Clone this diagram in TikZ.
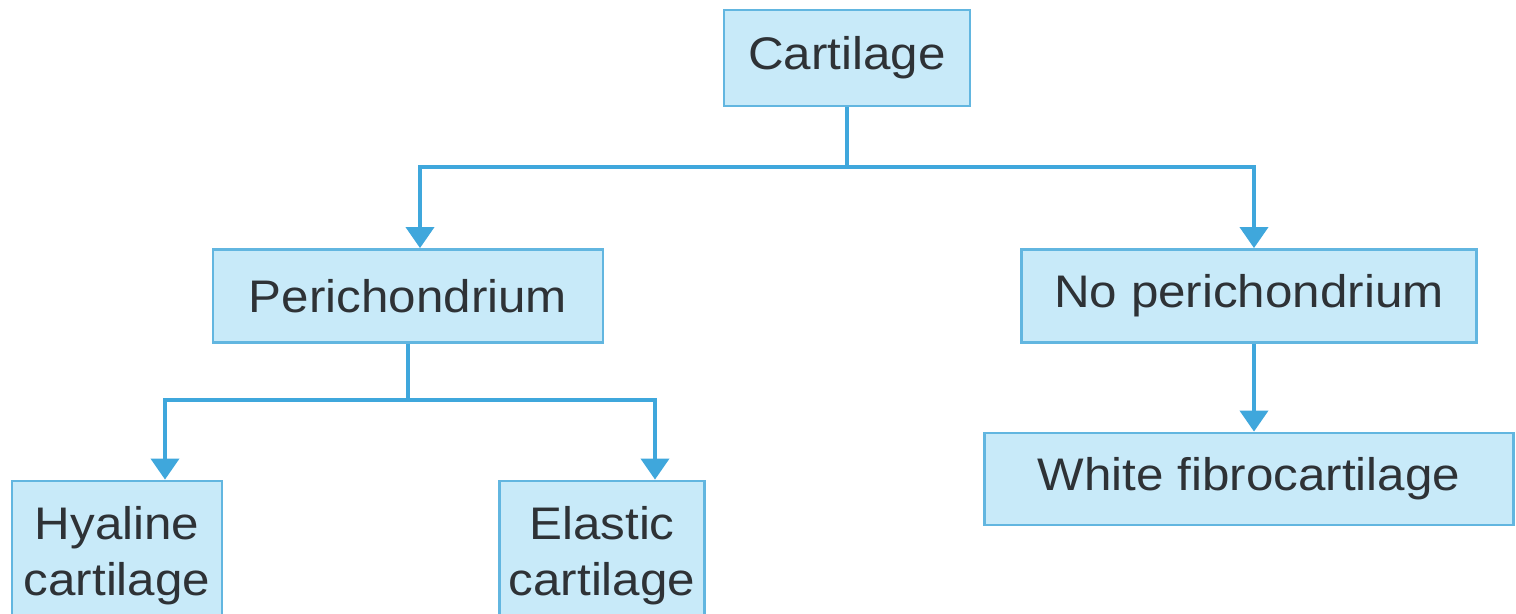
\documentclass[tikz,border=0pt]{standalone}
\usepackage{fontspec}
\setmainfont{Liberation Sans}[FakeStretch=1.08]
\usepackage{tikz}
\usetikzlibrary{arrows.meta}
\usepackage{xcolor}
\definecolor{boxfill}{HTML}{C8EAF9}
\definecolor{boxline}{HTML}{62B6E0}
\definecolor{arrowblue}{HTML}{3FA7DC}
\definecolor{textgray}{HTML}{2E3236}

\begin{document}
\begin{tikzpicture}[x=0.02cm, y=-0.02cm, >={Triangle[width=16pt,length=12pt]},
  box/.style={draw=boxline, line width=1.6pt, fill=boxfill, text=textgray,
    font=\fontsize{26}{32}\selectfont, inner sep=0pt, align=center},
  link/.style={draw=arrowblue, line width=2.2pt}]
  % Frame of the picture
  \clip (0,0) rectangle (1516,613);

  % Boxes
  \node[box, minimum width=246*0.02cm, minimum height=96*0.02cm] (cart) at (847,58) {Cartilage};
  \node[box, minimum width=390*0.02cm, minimum height=93*0.02cm] (peri) at (408,296) {Perichondrium};
  \node[box, minimum width=455*0.02cm, minimum height=93*0.02cm] (noperi) at (1249,296) {No perichondrium};
  \node[box, minimum width=529*0.02cm, minimum height=92*0.02cm] (white) at (1249,479) {White fibrocartilage};
  \node[box, minimum width=210*0.02cm, minimum height=150*0.02cm] (hyal) at (117,556) {Hyaline\\cartilage};
  \node[box, minimum width=205*0.02cm, minimum height=150*0.02cm] (elas) at (602,556) {Elastic\\cartilage};

  % Branch points
  \coordinate (J1) at (847,167);
  \coordinate (L1) at (420,167);
  \coordinate (R1) at (1254,167);
  \coordinate (J2) at (408,400);
  \coordinate (L2) at (165,400);
  \coordinate (R2) at (655,400);

  % Connectors from Cartilage
  \draw[link] (cart.south) -- (J1);
  \draw[link, ->] (J1) -- (L1) -- (L1 |- peri.north);
  \draw[link, ->] (J1) -- (R1) -- (R1 |- noperi.north);

  % Connectors from Perichondrium
  \draw[link] (peri.south) -- (J2);
  \draw[link, ->] (J2) -- (L2) -- (L2 |- hyal.north);
  \draw[link, ->] (J2) -- (R2) -- (R2 |- elas.north);

  % No perichondrium to White fibrocartilage
  \draw[link, ->] (R1 |- noperi.south) -- (R1 |- white.north);
\end{tikzpicture}
\end{document}
